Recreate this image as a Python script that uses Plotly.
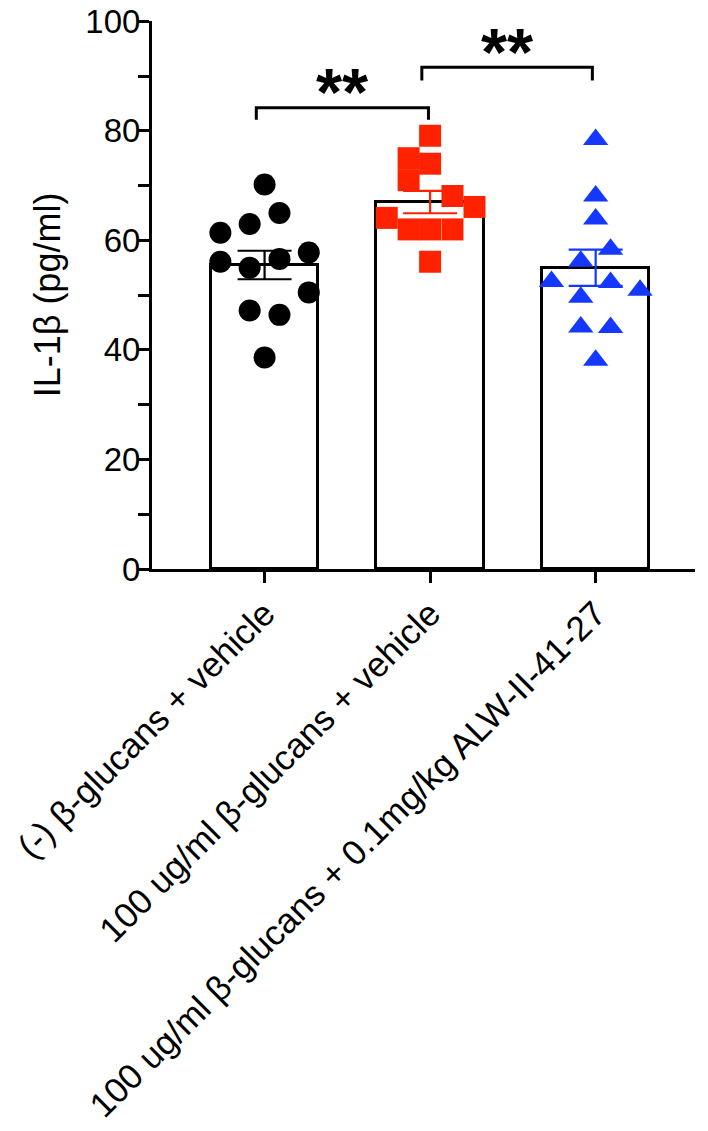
import plotly.graph_objects as go

# ---- data ----
categories = ["(-) β-glucans + vehicle",
              "100 ug/ml β-glucans + vehicle",
              "100 ug/ml β-glucans + 0.1mg/kg ALW-II-41-27"]
bar_means = [55.5, 67.0, 55.0]
bar_sem = [2.6, 2.05, 3.3]

g1_values = [70.2, 65.0, 63.0, 61.4, 57.8, 56.1, 56.6, 55.0, 50.5, 47.2, 46.4, 38.6]
g2_values = [79.1, 75.0, 74.0, 71.0, 68.1, 66.1, 64.1, 62.0, 62.0, 62.0, 56.1]
g3_values = [78.4, 68.1, 63.9, 58.4, 56.2, 52.5, 52.3, 50.9, 49.6, 44.2, 44.1, 38.1]

# horizontal scatter of points within each column (category units)
g1_jitter = [0, 0.09, -0.09, -0.267, 0.267, -0.267, 0.09, -0.09, 0.267, -0.09, 0.09, 0]
g2_jitter = [0, -0.13, 0, -0.13, 0.135, 0.268, -0.262, -0.13, 0, 0.135, 0]
g3_jitter = [0, 0, 0, 0.09, -0.09, -0.267, 0.09, 0.268, -0.09, -0.09, 0.09, 0]

y_ticks = [0, 20, 40, 60, 80, 100]
sig_labels = ["**", "**"]

# ---- styling ----
FONT = "Liberation Sans, Arial, Helvetica, sans-serif"
colors = ["#000000", "#ff2200", "#1438ff"]
symbols = ["circle", "square", "triangle-up"]

fig = go.Figure()

fig.add_trace(go.Bar(
    x=[0, 1, 2], y=bar_means, width=0.65,
    marker=dict(color="white", line=dict(color="black", width=3)),
    showlegend=False, hoverinfo="skip"))

for i in range(3):
    fig.add_trace(go.Scatter(
        x=[i], y=[bar_means[i]], mode="markers",
        marker=dict(size=1, color="rgba(0,0,0,0)"),
        error_y=dict(type="data", array=[bar_sem[i]], visible=True,
                     color=colors[i], thickness=2.2, width=27),
        showlegend=False, hoverinfo="skip"))

groups = [(g1_values, g1_jitter), (g2_values, g2_jitter), (g3_values, g3_jitter)]
sizes = [22, 22, 22]
for i, (vals, jit) in enumerate(groups):
    fig.add_trace(go.Scatter(
        x=[i + j for j in jit], y=vals, mode="markers",
        marker=dict(symbol=symbols[i], size=sizes[i], color=colors[i],
                    line=dict(width=0)),
        showlegend=False))

# significance brackets
bracket_specs = [
    dict(x0=-0.05, x1=0.99, top=84.2, leg=82.0, star_x=0.47, star_y=80.0),
    dict(x0=0.95, x1=1.98, top=91.6, leg=89.2, star_x=1.47, star_y=87.3),
]
for spec, lab in zip(bracket_specs, sig_labels):
    fig.add_shape(type="path",
                  path=f"M {spec['x0']},{spec['leg']} L {spec['x0']},{spec['top']} "
                       f"L {spec['x1']},{spec['top']} L {spec['x1']},{spec['leg']}",
                  xref="x", yref="y", line=dict(color="black", width=3))
    fig.add_annotation(x=spec["star_x"], y=spec["star_y"], text=f"<b>{lab}</b>",
                       showarrow=False, xref="x", yref="y", yanchor="bottom",
                       font=dict(family=FONT, size=67, color="black"))

# the page body adds an 8px offset, so the figure is 8px smaller and margins shifted
fig.update_layout(
    width=700, height=1123,
    margin=dict(l=144, r=13, t=13, b=562, autoexpand=False),
    paper_bgcolor="white", plot_bgcolor="white",
    font=dict(family=FONT, color="black"),
    bargap=0,
)
fig.update_xaxes(
    range=[-0.68, 2.6], tickmode="array", tickvals=[0, 1, 2], ticktext=categories,
    tickangle=-45, tickfont=dict(size=35, family=FONT), ticklabelstandoff=-4,
    ticklabeloverflow="allow", automargin=False,
    showline=True, linecolor="black", linewidth=3,
    ticks="outside", ticklen=11, tickwidth=3, tickcolor="black",
    showgrid=False, zeroline=False)
fig.update_yaxes(
    range=[0, 100.05], tickmode="array", tickvals=y_ticks, automargin=False,
    tickfont=dict(size=33, family=FONT), ticklabelstandoff=-9,
    ticklabeloverflow="allow",
    title=dict(text="IL-1β (pg/ml)", font=dict(size=36, family=FONT), standoff=14),
    showline=True, linecolor="black", linewidth=3,
    ticks="outside", ticklen=11, tickwidth=3, tickcolor="black",
    minor=dict(dtick=10, ticks="outside", ticklen=11, tickwidth=3, tickcolor="black",
               showgrid=False),
    showgrid=False, zeroline=False)

fig.write_html("out.html")
